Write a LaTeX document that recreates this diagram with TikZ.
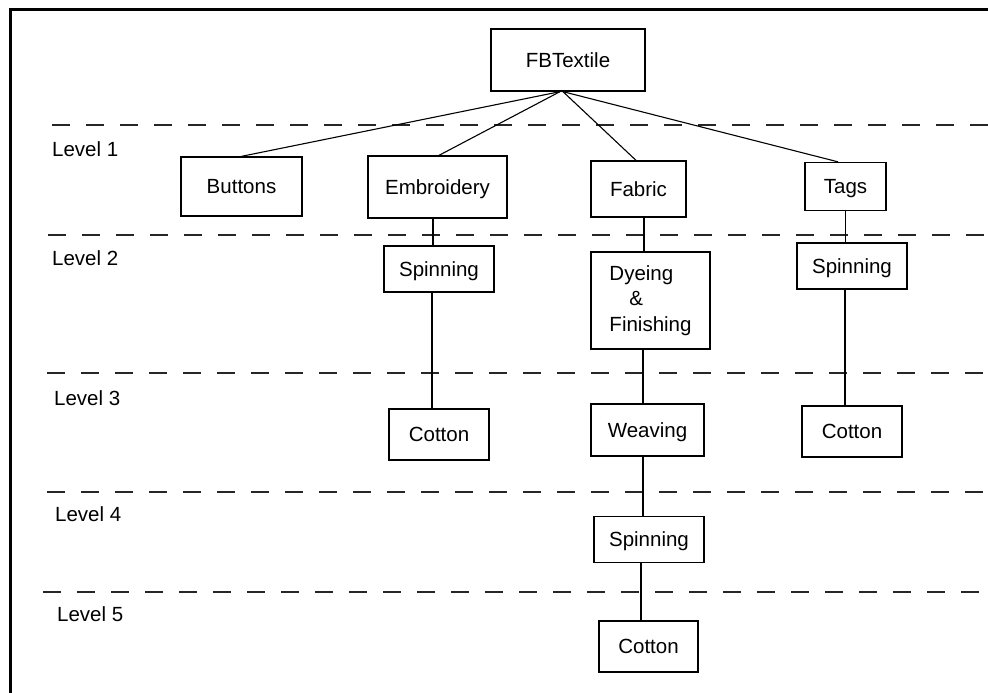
\documentclass[tikz,border=0pt]{standalone}
\usepackage{fontspec}
\setmainfont{Liberation Sans}
\begin{document}
\begin{tikzpicture}[x=1pt,y=-1pt,
  box/.style={draw, line width=1.3pt, inner sep=0pt, font=\fontsize{20.5}{25.5}\selectfont},
  onebox/.style={box, text height=14.7pt, text depth=0pt},
  link/.style={line width=1.1pt},
  levelline/.style={line width=1.5pt, draw=black!85, dash pattern=on 18pt off 16pt},
  levellabel/.style={anchor=base west, inner sep=0pt, font=\fontsize{20.5}{25.5}\selectfont}]
\useasboundingbox (0,0) rectangle (988,693);
\fill[white] (0,0) rectangle (988,693);

% outer frame (top and left edges)
\draw[line width=3pt] (10,693) -- (10,9.5) -- (988,9.5);

% level separators
\draw[levelline] (52,125) -- (988,125);
\draw[levelline] (48,235) -- (988,235);
\draw[levelline] (47,373) -- (988,373);
\draw[levelline] (47,492) -- (988,492);
\draw[levelline] (43,592) -- (988,592);

% level labels
\node[levellabel] (lv1) at (52,156) {Level 1};
\node[levellabel] (lv2) at (52,265) {Level 2};
\node[levellabel] (lv3) at (54,405) {Level 3};
\node[levellabel] (lv4) at (55,521) {Level 4};
\node[levellabel] (lv5) at (57,621) {Level 5};

% boxes
\node[onebox, minimum width=154pt, minimum height=62pt] (root) at (568,60) {FBTextile};
\node[onebox, minimum width=121pt, minimum height=59pt] (buttons) at (241.5,186.5) {Buttons};
\node[onebox, minimum width=139pt, minimum height=62pt] (embroidery) at (437.5,187) {Embroidery};
\node[onebox, minimum width=95pt, minimum height=56pt] (fabric) at (638.5,189) {Fabric};
\node[onebox, minimum width=81pt, minimum height=48pt] (tags) at (845.5,186.5) {Tags};
\node[onebox, minimum width=110pt, minimum height=46pt] (spin1) at (439,269) {Spinning};
\node[box, align=left, minimum width=119pt, minimum height=97pt] (dye) at (650.5,300.5) {Dyeing\\\hspace*{20pt}\&\\Finishing};
\node[onebox, minimum width=110pt, minimum height=46pt] (spin2) at (852,266) {Spinning};
\node[onebox, minimum width=100pt, minimum height=51pt] (cot1) at (439,434.5) {Cotton};
\node[onebox, minimum width=113pt, minimum height=52pt] (weav) at (647.5,430) {Weaving};
\node[onebox, minimum width=100pt, minimum height=51pt] (cot2) at (852,431.5) {Cotton};
\node[onebox, minimum width=110pt, minimum height=46pt] (spin3) at (649,539.5) {Spinning};
\node[onebox, minimum width=99pt, minimum height=51pt] (cot3) at (648.5,646.5) {Cotton};

% connectors from the root
\draw[link] ([xshift=-8pt]root.south) -- (buttons.north);
\draw[link] ([xshift=-8pt]root.south) -- ([xshift=1.5pt]embroidery.north);
\draw[link] ([xshift=-5pt]root.south) -- ([xshift=-2.5pt]fabric.north);
\draw[link] ([xshift=-5pt]root.south) -- ([xshift=-7.5pt]tags.north);

% vertical chains
\draw[link] ([xshift=-4.5pt]embroidery.south) -- ([xshift=-4.5pt]embroidery.south |- spin1.north);
\draw[link] ([xshift=-7pt]spin1.south) -- ([xshift=-7pt]spin1.south |- cot1.north);
\draw[link] ([xshift=5.5pt]fabric.south) -- ([xshift=5.5pt]fabric.south |- dye.north);
\draw[link] ([xshift=-7.5pt]dye.south) -- ([xshift=-7.5pt]dye.south |- weav.north);
\draw[link] ([xshift=-4.5pt]weav.south) -- ([xshift=-4.5pt]weav.south |- spin3.north);
\draw[link] ([xshift=-8pt]spin3.south) -- ([xshift=-8pt]spin3.south |- cot3.north);
\draw[link] (tags.south) -- (tags.south |- spin2.north);
\draw[link] ([xshift=-7pt]spin2.south) -- ([xshift=-7pt]spin2.south |- cot2.north);
\end{tikzpicture}
\end{document}
